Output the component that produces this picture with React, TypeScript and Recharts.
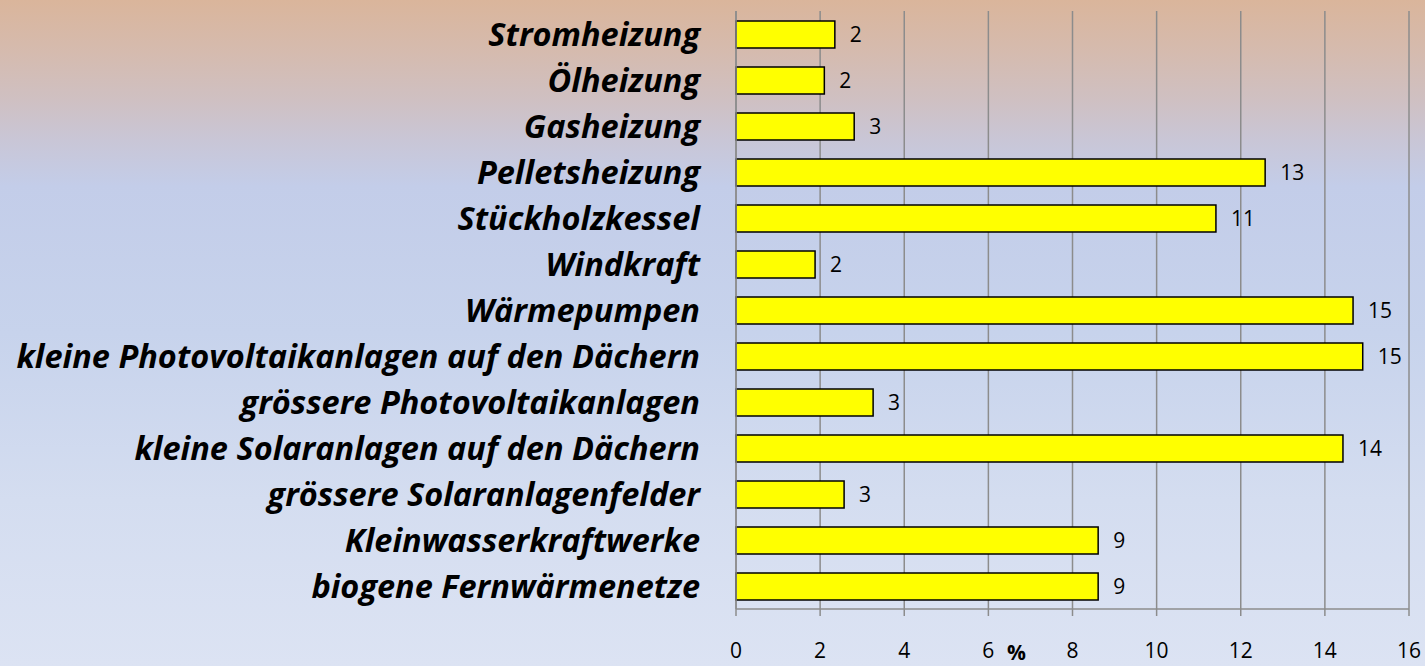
import { BarChart, Bar, XAxis, YAxis, CartesianGrid, LabelList } from "recharts";

const categories = [
  "Stromheizung",
  "Ölheizung",
  "Gasheizung",
  "Pelletsheizung",
  "Stückholzkessel",
  "Windkraft",
  "Wärmepumpen",
  "kleine Photovoltaikanlagen auf den Dächern",
  "grössere Photovoltaikanlagen",
  "kleine Solaranlagen auf den Dächern",
  "grössere Solaranlagenfelder",
  "Kleinwasserkraftwerke",
  "biogene Fernwärmenetze",
];

const shares = [2.35, 2.1, 2.81, 12.58, 11.41, 1.88, 14.67, 14.9, 3.26, 14.43, 2.57, 8.61, 8.61];

const xTicks = [0, 2, 4, 6, 8, 10, 12, 14, 16];

const data = categories.map((name, i) => ({ name, value: shares[i] }));

const FONT = "'Open Sans', 'Noto Sans', sans-serif";
const GRID = "#8c8c8c";

export default function App() {
  return (
    <div
      style={{
        position: "absolute",
        left: 0,
        top: 0,
        width: 1425,
        height: 666,
        background:
          "linear-gradient(to bottom, #dab59b 0%, #d5bbaf 8%, #cfc0c2 15%, #c9c6d6 21%, #c3cde9 28%, #c7d3ec 50%, #d4ddf0 75%, #dce3f3 100%)",
        fontFamily: FONT,
      }}
    >
      <BarChart
        width={1425}
        height={666}
        data={data}
        layout="vertical"
        margin={{ top: 11, right: 16, bottom: 0, left: 0 }}
        barSize={27}
      >
        <CartesianGrid horizontal={false} stroke={GRID} strokeWidth={1.5} />
        <XAxis
          type="number"
          domain={[0, 16]}
          ticks={xTicks}
          height={57}
          stroke={GRID}
          strokeWidth={1.5}
          tickSize={7}
          tickMargin={27}
          tick={{ fill: "#000", fontSize: 21, fontFamily: FONT }}
          label={{
            value: "%",
            position: "insideBottom",
            dx: -56,
            offset: 6,
            fill: "#000",
            fontSize: 21,
            fontWeight: 700,
            fontFamily: FONT,
          }}
        />
        <YAxis
          type="category"
          dataKey="name"
          width={736}
          stroke={GRID}
          strokeWidth={1.5}
          tickLine={false}
          tickSize={0}
          tickMargin={36}
          interval={0}
          tick={{
            fill: "#000",
            fontSize: 32.5,
            fontWeight: 700,
            fontStyle: "italic",
            fontFamily: FONT,
          }}
        />
        <Bar dataKey="value" fill="#ffff00" stroke="#000" strokeWidth={1.5} isAnimationActive={false}>
          <LabelList
            dataKey="value"
            position="right"
            offset={15}
            formatter={(v: number) => Math.round(v)}
            style={{ fill: "#000", fontSize: 21, fontFamily: FONT }}
          />
        </Bar>
      </BarChart>
    </div>
  );
}
